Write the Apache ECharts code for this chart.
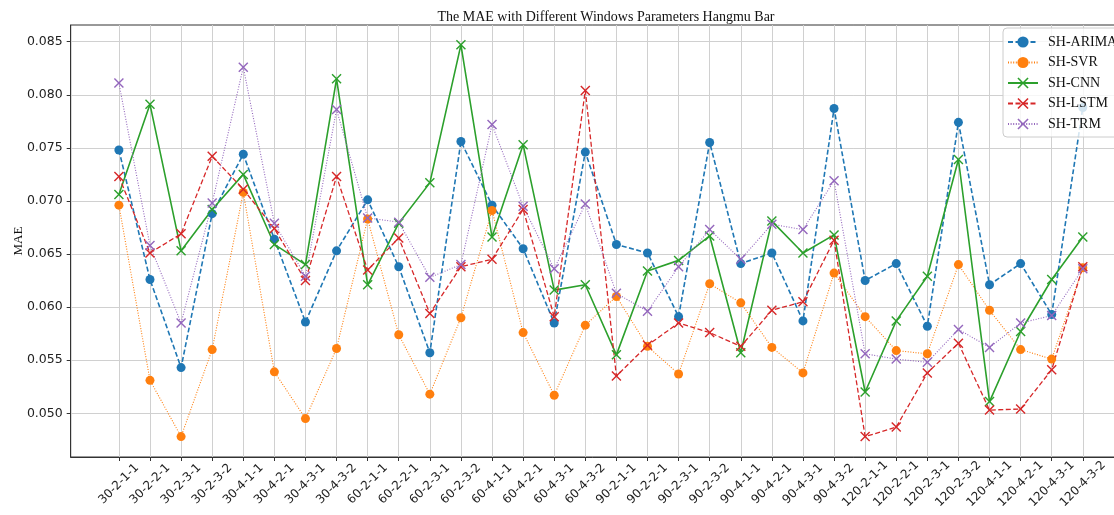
<!DOCTYPE html>
<html>
<head>
<meta charset="utf-8">
<script src="https://cdn.jsdelivr.net/npm/echarts@6/dist/echarts.min.js"></script>
<style>html,body{margin:0;padding:0;background:#fff}#c{width:1114px;height:515px}</style>
</head>
<body>
<div id="c"></div>
<script>
const categories = ['30-2-1-1','30-2-2-1','30-2-3-1','30-2-3-2','30-4-1-1','30-4-2-1','30-4-3-1','30-4-3-2','60-2-1-1','60-2-2-1','60-2-3-1','60-2-3-2','60-4-1-1','60-4-2-1','60-4-3-1','60-4-3-2','90-2-1-1','90-2-2-1','90-2-3-1','90-2-3-2','90-4-1-1','90-4-2-1','90-4-3-1','90-4-3-2','120-2-1-1','120-2-2-1','120-2-3-1','120-2-3-2','120-4-1-1','120-4-2-1','120-4-3-1','120-4-3-2'];
const arima = [0.0748,0.0626,0.0543,0.0688,0.0744,0.0664,0.0586,0.0653,0.0701,0.0638,0.0557,0.0756,0.0696,0.0655,0.0585,0.0746,0.0659,0.0651,0.0591,0.0755,0.0641,0.0651,0.0587,0.0787,0.0625,0.0641,0.0582,0.0774,0.0621,0.0641,0.0593,0.0788];
const svr = [0.0696,0.0531,0.0478,0.0560,0.0708,0.0539,0.0495,0.0561,0.0683,0.0574,0.0518,0.0590,0.0691,0.0576,0.0517,0.0583,0.0610,0.0563,0.0537,0.0622,0.0604,0.0562,0.0538,0.0632,0.0591,0.0559,0.0556,0.0640,0.0597,0.0560,0.0551,0.0637];
const cnn = [0.0706,0.0791,0.0653,0.0692,0.0725,0.0659,0.0640,0.0815,0.0621,0.0679,0.0717,0.0847,0.0666,0.0753,0.0616,0.0621,0.0555,0.0634,0.0644,0.0667,0.0557,0.0681,0.0651,0.0668,0.0520,0.0587,0.0629,0.0739,0.0511,0.0577,0.0626,0.0666];
const lstm = [0.0723,0.0651,0.0669,0.0742,0.0711,0.0674,0.0625,0.0723,0.0635,0.0665,0.0594,0.0638,0.0645,0.0692,0.0591,0.0804,0.0535,0.0564,0.0585,0.0576,0.0563,0.0597,0.0605,0.0663,0.0478,0.0487,0.0538,0.0566,0.0503,0.0504,0.0541,0.0638];
const trm = [0.0811,0.0658,0.0585,0.0698,0.0826,0.0679,0.0629,0.0786,0.0684,0.0680,0.0628,0.0640,0.0772,0.0695,0.0636,0.0697,0.0613,0.0596,0.0638,0.0673,0.0645,0.0678,0.0673,0.0719,0.0556,0.0551,0.0548,0.0579,0.0562,0.0585,0.0592,0.0636];
const yTicks = [0.050,0.055,0.060,0.065,0.070,0.075,0.080,0.085];
const seriesNames = ['SH-ARIMA','SH-SVR','SH-CNN','SH-LSTM','SH-TRM'];

const xIdx = categories.map((c, i) => i);
const pts = arr => arr.map((v, i) => [i, v]);
const X = 'path://M1,0 L5,4 L9,0 L10,1 L6,5 L10,9 L9,10 L5,6 L1,10 L0,9 L4,5 L0,1 Z';

function mk(name, data, color, dash, width, symbol, size) {
  return {
    name, type: 'line', data: pts(data),
    symbol, symbolSize: size, showSymbol: true,
    lineStyle: { color, width, type: dash },
    itemStyle: { color, borderWidth: 0 },
    emphasis: { disabled: true },
    animation: false
  };
}

const chart = echarts.init(document.getElementById('c'), null, { renderer: 'canvas' });
chart.setOption({
  backgroundColor: '#fff',
  animation: false,
  title: {
    text: 'The MAE with Different Windows Parameters Hangmu Bar',
    left: 601, top: 5, textAlign: 'center',
    textStyle: { fontFamily: 'Liberation Serif', fontSize: 14, fontWeight: 'normal', color: '#111' }
  },
  legend: {
    data: seriesNames,
    orient: 'vertical',
    left: 1003, top: 28,
    itemWidth: 30, itemHeight: 14, itemGap: 6.5,
    padding: [7, 5, 6, 4],
    backgroundColor: 'rgba(255,255,255,0.8)',
    borderColor: '#cccccc', borderWidth: 1, borderRadius: 4,
    textStyle: { fontFamily: 'Liberation Serif', fontSize: 14, color: '#111', padding: [0, 0, 0, 5] }
  },
  grid: { left: 70.7, top: 25, right: -17, bottom: 58, show: true, borderColor: '#333', borderWidth: 1, containLabel: false, outerBoundsMode: 'none' },
  xAxis: {
    type: 'value', min: -1.55, max: 32.55,
    axisLine: { show: true, onZero: false, lineStyle: { color: '#333' } },
    axisTick: { show: true, length: 4, customValues: xIdx, lineStyle: { color: '#333' } },
    splitLine: { show: true, lineStyle: { color: '#d0d0d0', width: 1 } },
    axisLabel: {
      customValues: xIdx, rotate: 45, align: 'center', verticalAlign: 'middle', margin: 27,
      formatter: v => categories[Math.round(v)] || '',
      fontFamily: 'DejaVu Sans', fontSize: 12, color: '#222'
    }
  },
  yAxis: {
    type: 'value', min: 0.04588, max: 0.08657,
    name: 'MAE', nameLocation: 'middle', nameGap: 46, nameRotate: 90, nameMoveOverlap: false,
    nameTextStyle: { fontFamily: 'Liberation Serif', fontSize: 13, color: '#111' },
    axisLine: { show: true, onZero: false, lineStyle: { color: '#333' } },
    axisTick: { show: true, length: 4, customValues: yTicks, lineStyle: { color: '#333' } },
    splitLine: { show: true, lineStyle: { color: '#d0d0d0', width: 1 } },
    axisLabel: {
      customValues: yTicks, margin: 8,
      formatter: v => v.toFixed(3),
      fontFamily: 'DejaVu Sans', fontSize: 12.5, color: '#222'
    }
  },
  series: [
    mk('SH-ARIMA', arima, '#1f77b4', [5, 2.5], 1.6, 'circle', 9),
    mk('SH-SVR', svr, '#ff7f0e', [1, 1.6], 1.1, 'circle', 9),
    mk('SH-CNN', cnn, '#2ca02c', 'solid', 1.6, X, 10),
    mk('SH-LSTM', lstm, '#d62728', [5, 2.5], 1.3, X, 10),
    mk('SH-TRM', trm, '#9467bd', [1, 1.6], 1.1, X, 10)
  ]
});
</script>
</body>
</html>
